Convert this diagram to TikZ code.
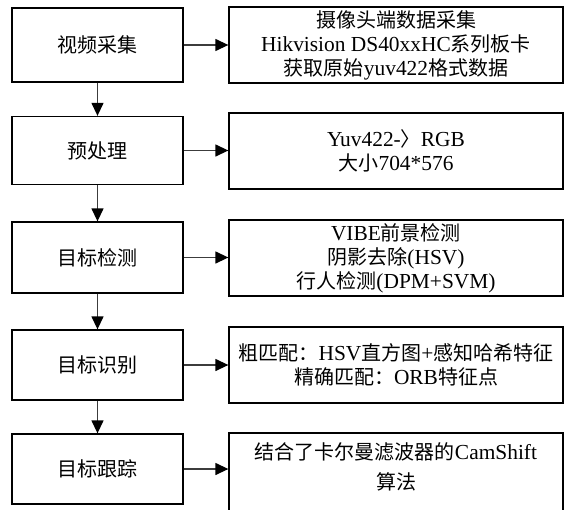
\documentclass[tikz,border=0pt]{standalone}
\usepackage{fontspec}
\setmainfont{Liberation Serif}[Scale=1.07]
\newfontfamily\cjk{Noto Sans CJK SC}
\usetikzlibrary{arrows.meta}
\definecolor{arrgray}{RGB}{60,60,60}
\begin{document}
\begin{tikzpicture}[x=1pt,y=-1pt,
  lbox/.style={draw=black,line width=1.3pt,minimum width=171pt,inner sep=0pt,
    font=\fontsize{20}{24}\selectfont,align=center},
  rbox/.style={draw=black,line width=1.3pt,minimum width=334pt,minimum height=76pt,inner sep=0pt,
    font=\fontsize{20}{24}\selectfont,align=center},
  txt/.style={inner sep=0pt,font=\fontsize{20}{24}\selectfont,align=center},
  arr/.style={draw=arrgray,line width=1.3pt,-{Triangle[length=13pt,width=12pt,color=black]}}]
\clip (0,0) rectangle (573,509);
\fill[white] (0,0) rectangle (573,509);
% left column
\node[lbox,minimum height=74pt] (b1) at (97.5,45) {{\cjk 视频采集}};
\node[lbox,minimum height=68pt] (b2) at (97.5,150.5) {{\cjk 预处理}};
\node[lbox,minimum height=71pt] (b3) at (97.5,257.5) {{\cjk 目标检测}};
\node[lbox,minimum height=70pt] (b4) at (97.5,365) {{\cjk 目标识别}};
\node[lbox,minimum height=70pt] (b5) at (97.5,469) {{\cjk 目标跟踪}};
% right column
\node[rbox] (r1) at (396,45) {{\cjk 摄像头端数据采集}\\Hikvision DS40xxHC{\cjk 系列板卡}\\{\cjk 获取原始}yuv422{\cjk 格式数据}};
\node[rbox] (r2) at (396,151) {Yuv422-{\cjk 〉}RGB\\{\cjk 大小}704*576};
\node[rbox] (r3) at (396,258) {VIBE{\cjk 前景检测}\\{\cjk 阴影去除}(HSV)\\{\cjk 行人检测}(DPM+SVM)};
\node[rbox] (r4) at (396,365) {{\cjk 粗匹配：}HSV{\cjk 直方图}+{\cjk 感知哈希特征}\\{\cjk 精确匹配：}ORB{\cjk 特征点}};
\node[rbox,minimum height=84pt] (r5) at (396,475) {};
\node[txt,anchor=north] (t5) at ([yshift=-10pt]r5.north) {{\cjk 结合了卡尔曼滤波器的}CamShift\\[6pt]{\cjk 算法}};
% arrows
\draw[arr] (b1.east) -- (b1.east -| r1.west);
\draw[arr] (b2.east) -- (b2.east -| r2.west);
\draw[arr] (b3.east) -- (b3.east -| r3.west);
\draw[arr] (b4.east) -- (b4.east -| r4.west);
\draw[arr] (b5.east) -- (b5.east -| r5.west);
\draw[arr] (b1.south) -- (b2.north);
\draw[arr] (b2.south) -- (b3.north);
\draw[arr] (b3.south) -- (b4.north);
\draw[arr] (b4.south) -- (b5.north);
\end{tikzpicture}
\end{document}
